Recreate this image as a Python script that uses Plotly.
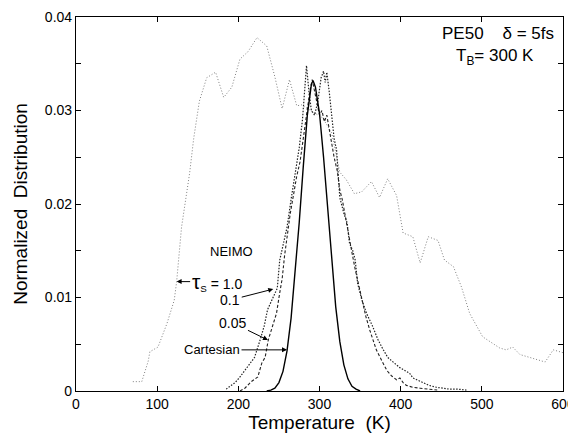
import plotly.graph_objects as go

# ---- data (Temperature K, normalized distribution) ----
tau10_T = [70, 81, 89, 91, 101, 112, 121, 124, 130, 140, 145, 152, 161, 172, 182, 192, 202, 212,
           223, 235, 245, 251, 254, 263, 272, 278, 292, 304, 315, 325, 333, 343, 352, 364, 374,
           384, 395, 403, 415, 424, 434, 446, 454, 465, 475, 485, 501, 522, 530, 538, 547, 578,
           588, 600]
tau10_y = [0.001, 0.001, 0.0032, 0.0042, 0.0047, 0.0072, 0.0097, 0.0117, 0.0175, 0.0233, 0.027,
           0.031, 0.0335, 0.0341, 0.0314, 0.0325, 0.0355, 0.0363, 0.0378, 0.0369, 0.0336, 0.0313,
           0.0302, 0.0333, 0.0305, 0.0306, 0.0298, 0.0292, 0.0276, 0.0234, 0.0226, 0.0211, 0.0213,
           0.0224, 0.0207, 0.0227, 0.0209, 0.0169, 0.0165, 0.0137, 0.0165, 0.0161, 0.014, 0.0133,
           0.0111, 0.0083, 0.0058, 0.0046, 0.0044, 0.0047, 0.0039, 0.0031, 0.0044, 0.0041]

tau01_T = [185, 190, 196, 202, 208, 214, 220, 227, 232, 236, 242, 248, 251, 255, 260, 265, 270,
           275, 279, 282, 284, 287, 290, 294, 298, 302, 305, 307, 309, 312, 315, 318, 321, 325,
           330, 334, 337, 341, 344, 347, 352, 358, 365, 372, 378, 384, 392, 399, 405, 411, 415,
           420, 428, 435, 444, 452, 460, 470, 481]
tau01_y = [0.0002, 0.0005, 0.0009, 0.0015, 0.0022, 0.003, 0.0036, 0.0055, 0.007, 0.0087, 0.0098,
           0.011, 0.014, 0.0155, 0.0175, 0.0205, 0.0235, 0.026, 0.029, 0.033, 0.0348, 0.032, 0.030,
           0.0295, 0.031, 0.0335, 0.0342, 0.033, 0.0341, 0.032, 0.0293, 0.027, 0.0258, 0.0207,
           0.019, 0.018, 0.0158, 0.015, 0.014, 0.0115, 0.0098, 0.0083, 0.007, 0.0055, 0.0045,
           0.0036, 0.003, 0.0025, 0.0022, 0.0019, 0.0014, 0.0012, 0.0008, 0.0006, 0.0004, 0.0003,
           0.0002, 0.0002, 0.0001]

tau005_T = [202, 208, 216, 224, 229, 233, 237, 242, 247, 251, 254, 257, 260, 264, 268, 272, 276,
            280, 284, 288, 291, 294, 297, 300, 303, 306, 309, 312, 315, 318, 322, 325, 328, 332,
            336, 340, 344, 348, 352, 357, 362, 366, 370, 377, 383, 389, 395, 399, 403, 407, 415,
            424, 435, 445]
tau005_y = [0.0, 0.0003, 0.001, 0.0015, 0.003, 0.0036, 0.0055, 0.007, 0.0083, 0.0105, 0.012,
            0.0145, 0.0165, 0.019, 0.021, 0.023, 0.0245, 0.027, 0.030, 0.032, 0.0333, 0.032,
            0.0305, 0.0295, 0.030, 0.0288, 0.0295, 0.028, 0.0265, 0.025, 0.0235, 0.0215, 0.0205,
            0.0185, 0.0165, 0.0148, 0.013, 0.0115, 0.0097, 0.008, 0.0065, 0.0055, 0.0044, 0.0032,
            0.0022, 0.0016, 0.0012, 0.0014, 0.0009, 0.0006, 0.0004, 0.0003, 0.0002, 0.0001]

cart_T = [235, 240, 245, 250, 255, 260, 265, 270, 275, 280, 285, 290, 292, 295, 300, 305, 310,
          315, 320, 325, 330, 335, 340, 345, 350]
cart_y = [0.0, 0.0001, 0.0003, 0.0009, 0.0021, 0.0043, 0.0078, 0.0125, 0.018, 0.024, 0.0295,
          0.0328, 0.0332, 0.0325, 0.0297, 0.025, 0.0195, 0.0138, 0.009, 0.0053, 0.0028, 0.0013,
          0.0005, 0.0002, 0.0]

x_ticks = [0, 100, 200, 300, 400, 500, 600]
y_ticks = [0, 0.01, 0.02, 0.03, 0.04]
y_ticktext = ["0", "0.01", "0.02", "0.03", "0.04"]

NARROW = "Liberation Sans Narrow, Arial Narrow, Liberation Sans, Arial"
SANS = "Liberation Sans, Arial, sans-serif"

fig = go.Figure()
fig.add_trace(go.Scatter(x=tau10_T, y=tau10_y, mode="lines",
                         line=dict(color="#808080", width=1, dash="1px,2px"), name="1.0"))
fig.add_trace(go.Scatter(x=tau01_T, y=tau01_y, mode="lines",
                         line=dict(color="#222222", width=1.2, dash="1.5px,1.5px"), name="0.1"))
fig.add_trace(go.Scatter(x=tau005_T, y=tau005_y, mode="lines",
                         line=dict(color="#222222", width=1.1, dash="3px,2px"), name="0.05"))
fig.add_trace(go.Scatter(x=cart_T, y=cart_y, mode="lines",
                         line=dict(color="black", width=1.4), name="Cartesian"))

axis_common = dict(showgrid=False, zeroline=False, showline=True, linecolor="black",
                   linewidth=1.2, mirror="ticks", ticks="inside", ticklen=5,
                   tickcolor="black", tickwidth=1, automargin=False,
                   tickfont=dict(family=NARROW, size=14, color="black"))

fig.update_xaxes(range=[0, 600], tickvals=x_ticks, ticktext=[str(v) for v in x_ticks],
                 title=dict(text="Temperature  (K)", font=dict(family=SANS, size=19, color="black"),
                            standoff=1),
                 **axis_common)
fig.update_yaxes(range=[0, 0.04], tickvals=y_ticks, ticktext=y_ticktext,
                 minor=dict(tickvals=[0.005, 0.015, 0.025, 0.035], ticks="inside", ticklen=5,
                            tickcolor="black", tickwidth=1),
                 title=dict(text="Normalized  Distribution",
                            font=dict(family=SANS, size=19, color="black"), standoff=12),
                 **axis_common)

ann_font = dict(family=NARROW, size=14, color="black")
annotations = [
    dict(x=0.985, y=0.955, xref="paper", yref="paper", xanchor="right", yanchor="middle",
         text="PE50    δ = 5fs", showarrow=False, font=dict(family=SANS, size=17, color="black")),
    dict(x=0.945, y=0.893, xref="paper", yref="paper", xanchor="right", yanchor="middle",
         text="T<sub>B</sub>= 300 K", showarrow=False, font=dict(family=SANS, size=17, color="black")),
    dict(x=191, y=0.0149, text="NEIMO", showarrow=False,
         font=dict(family=SANS, size=13, color="black")),
    dict(x=124, y=0.0117, text='<span style="font-size:21px">τ</span><sub>S</sub> = 1.0',
         showarrow=True, ax=40, ay=0, arrowhead=2, arrowsize=1, arrowwidth=1,
         arrowcolor="black", font=ann_font),
    dict(x=243, y=0.0109, text="0.1", showarrow=True, ax=-43, ay=11, arrowhead=2,
         arrowsize=1, arrowwidth=1, arrowcolor="black", font=ann_font),
    dict(x=236.5, y=0.00545, text="0.05", showarrow=True, ax=-35, ay=-17, arrowhead=2,
         arrowsize=1, arrowwidth=1, arrowcolor="black", font=ann_font),
    dict(x=260, y=0.0044, text="Cartesian", showarrow=True, ax=-75, ay=0, arrowhead=2,
         arrowsize=1, arrowwidth=1, arrowcolor="black", font=dict(family=NARROW, size=13, color="black")),
]
fig.update_layout(annotations=annotations)

# the page body adds an 8px offset; size the figure so the plot area lands where the reference has it
fig.update_layout(width=568, height=427, margin=dict(l=68, r=13, t=9, b=44),
                  paper_bgcolor="white", plot_bgcolor="white", showlegend=False)

fig.write_html("out.html")
